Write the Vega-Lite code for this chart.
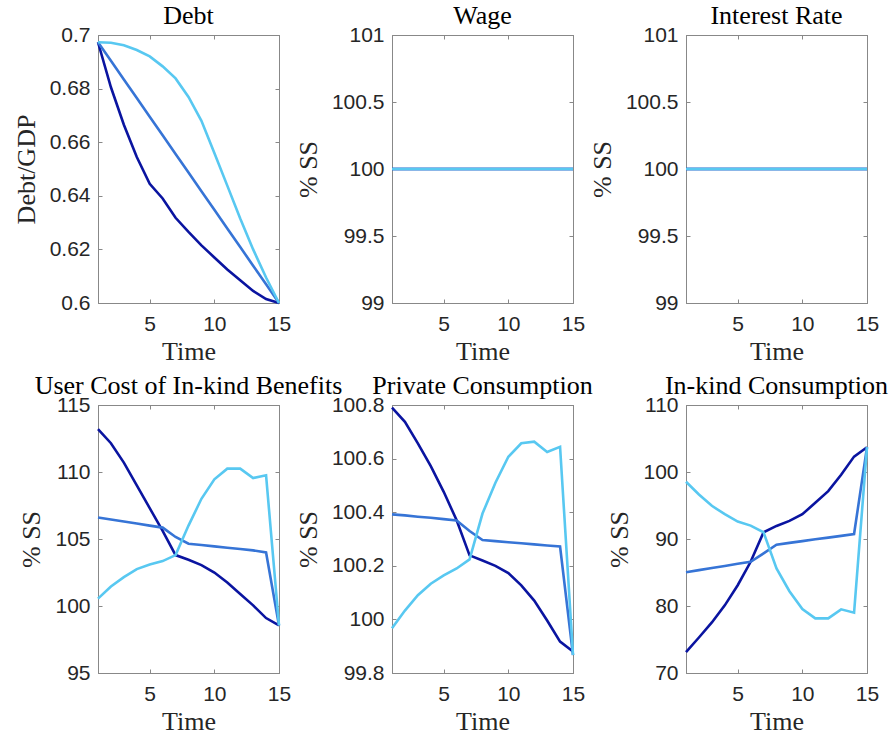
{
  "$schema": "https://vega.github.io/schema/vega-lite/v6.json",
  "background": "white",
  "padding": {"left": 12, "top": 2, "right": 5, "bottom": 5},
  "datasets": {
    "debt": [
      {"t": 1, "s1": 0.6973, "s2": 0.6973, "s3": 0.6973},
      {"t": 2, "s1": 0.6805, "s2": 0.6904, "s3": 0.6971},
      {"t": 3, "s1": 0.6665, "s2": 0.6834, "s3": 0.6962},
      {"t": 4, "s1": 0.6545, "s2": 0.6765, "s3": 0.6944},
      {"t": 5, "s1": 0.6445, "s2": 0.6695, "s3": 0.6920},
      {"t": 6, "s1": 0.6390, "s2": 0.6626, "s3": 0.6883},
      {"t": 7, "s1": 0.6318, "s2": 0.6556, "s3": 0.6838},
      {"t": 8, "s1": 0.6265, "s2": 0.6487, "s3": 0.6769},
      {"t": 9, "s1": 0.6215, "s2": 0.6417, "s3": 0.6680},
      {"t": 10, "s1": 0.6170, "s2": 0.6348, "s3": 0.6560},
      {"t": 11, "s1": 0.6125, "s2": 0.6278, "s3": 0.6438},
      {"t": 12, "s1": 0.6085, "s2": 0.6209, "s3": 0.6315},
      {"t": 13, "s1": 0.6045, "s2": 0.6139, "s3": 0.6200},
      {"t": 14, "s1": 0.6015, "s2": 0.6070, "s3": 0.6095},
      {"t": 15, "s1": 0.6000, "s2": 0.6000, "s3": 0.6000}
    ],
    "wage": [
      {"t": 1, "s1": 100, "s2": 100, "s3": 100},
      {"t": 2, "s1": 100, "s2": 100, "s3": 100},
      {"t": 3, "s1": 100, "s2": 100, "s3": 100},
      {"t": 4, "s1": 100, "s2": 100, "s3": 100},
      {"t": 5, "s1": 100, "s2": 100, "s3": 100},
      {"t": 6, "s1": 100, "s2": 100, "s3": 100},
      {"t": 7, "s1": 100, "s2": 100, "s3": 100},
      {"t": 8, "s1": 100, "s2": 100, "s3": 100},
      {"t": 9, "s1": 100, "s2": 100, "s3": 100},
      {"t": 10, "s1": 100, "s2": 100, "s3": 100},
      {"t": 11, "s1": 100, "s2": 100, "s3": 100},
      {"t": 12, "s1": 100, "s2": 100, "s3": 100},
      {"t": 13, "s1": 100, "s2": 100, "s3": 100},
      {"t": 14, "s1": 100, "s2": 100, "s3": 100},
      {"t": 15, "s1": 100, "s2": 100, "s3": 100}
    ],
    "rate": [
      {"t": 1, "s1": 100, "s2": 100, "s3": 100},
      {"t": 2, "s1": 100, "s2": 100, "s3": 100},
      {"t": 3, "s1": 100, "s2": 100, "s3": 100},
      {"t": 4, "s1": 100, "s2": 100, "s3": 100},
      {"t": 5, "s1": 100, "s2": 100, "s3": 100},
      {"t": 6, "s1": 100, "s2": 100, "s3": 100},
      {"t": 7, "s1": 100, "s2": 100, "s3": 100},
      {"t": 8, "s1": 100, "s2": 100, "s3": 100},
      {"t": 9, "s1": 100, "s2": 100, "s3": 100},
      {"t": 10, "s1": 100, "s2": 100, "s3": 100},
      {"t": 11, "s1": 100, "s2": 100, "s3": 100},
      {"t": 12, "s1": 100, "s2": 100, "s3": 100},
      {"t": 13, "s1": 100, "s2": 100, "s3": 100},
      {"t": 14, "s1": 100, "s2": 100, "s3": 100},
      {"t": 15, "s1": 100, "s2": 100, "s3": 100}
    ],
    "usercost": [
      {"t": 1, "s1": 113.2, "s2": 106.6, "s3": 100.55},
      {"t": 2, "s1": 112.15, "s2": 106.45, "s3": 101.45},
      {"t": 3, "s1": 110.7, "s2": 106.3, "s3": 102.15},
      {"t": 4, "s1": 109.0, "s2": 106.15, "s3": 102.75},
      {"t": 5, "s1": 107.3, "s2": 106.0, "s3": 103.1},
      {"t": 6, "s1": 105.6, "s2": 105.85, "s3": 103.35},
      {"t": 7, "s1": 103.8, "s2": 105.15, "s3": 103.8},
      {"t": 8, "s1": 103.45, "s2": 104.65, "s3": 106.0},
      {"t": 9, "s1": 103.05, "s2": 104.55, "s3": 108.0},
      {"t": 10, "s1": 102.5, "s2": 104.45, "s3": 109.45},
      {"t": 11, "s1": 101.75, "s2": 104.35, "s3": 110.25},
      {"t": 12, "s1": 100.9, "s2": 104.25, "s3": 110.25},
      {"t": 13, "s1": 100.05, "s2": 104.15, "s3": 109.55},
      {"t": 14, "s1": 99.1, "s2": 104.0, "s3": 109.75},
      {"t": 15, "s1": 98.55, "s2": 98.55, "s3": 98.55}
    ],
    "private": [
      {"t": 1, "s1": 100.79, "s2": 100.392, "s3": 99.967},
      {"t": 2, "s1": 100.737, "s2": 100.388, "s3": 100.033},
      {"t": 3, "s1": 100.657, "s2": 100.383, "s3": 100.09},
      {"t": 4, "s1": 100.572, "s2": 100.379, "s3": 100.133},
      {"t": 5, "s1": 100.476, "s2": 100.374, "s3": 100.164},
      {"t": 6, "s1": 100.37, "s2": 100.369, "s3": 100.19},
      {"t": 7, "s1": 100.239, "s2": 100.33, "s3": 100.224},
      {"t": 8, "s1": 100.22, "s2": 100.296, "s3": 100.395},
      {"t": 9, "s1": 100.2, "s2": 100.292, "s3": 100.51},
      {"t": 10, "s1": 100.173, "s2": 100.288, "s3": 100.607},
      {"t": 11, "s1": 100.127, "s2": 100.284, "s3": 100.657},
      {"t": 12, "s1": 100.07, "s2": 100.28, "s3": 100.663},
      {"t": 13, "s1": 99.996, "s2": 100.276, "s3": 100.625},
      {"t": 14, "s1": 99.917, "s2": 100.272, "s3": 100.644},
      {"t": 15, "s1": 99.88, "s2": 99.867, "s3": 99.867}
    ],
    "inkind": [
      {"t": 1, "s1": 73.1, "s2": 85.05, "s3": 98.55},
      {"t": 2, "s1": 75.3, "s2": 85.35, "s3": 96.65},
      {"t": 3, "s1": 77.55, "s2": 85.67, "s3": 94.95},
      {"t": 4, "s1": 80.1, "s2": 85.98, "s3": 93.7},
      {"t": 5, "s1": 83.1, "s2": 86.3, "s3": 92.6},
      {"t": 6, "s1": 86.6, "s2": 86.6, "s3": 92.0},
      {"t": 7, "s1": 91.0, "s2": 87.85, "s3": 91.0},
      {"t": 8, "s1": 91.95, "s2": 89.15, "s3": 85.6},
      {"t": 9, "s1": 92.7, "s2": 89.42, "s3": 82.2},
      {"t": 10, "s1": 93.7, "s2": 89.68, "s3": 79.55},
      {"t": 11, "s1": 95.4, "s2": 89.95, "s3": 78.15},
      {"t": 12, "s1": 97.15, "s2": 90.2, "s3": 78.15},
      {"t": 13, "s1": 99.6, "s2": 90.47, "s3": 79.5},
      {"t": 14, "s1": 102.3, "s2": 90.74, "s3": 79.0},
      {"t": 15, "s1": 103.7, "s2": 103.7, "s3": 103.7}
    ]
  },
  "columns": 3,
  "bounds": "flush",
  "spacing": {"row": 102, "column": 113},
  "concat": [
    {
      "data": {"name": "debt"},
      "transform": [{"fold": ["s1", "s2", "s3"], "as": ["series", "value"]}],
      "title": "Debt",
      "width": 181, "height": 268,
      "layer": [
        {"mark": {"type": "line", "strokeWidth": 2.6},
         "encoding": {
           "x": {"field": "t", "type": "quantitative", "scale": {"domain": [1, 15], "nice": false, "zero": false}, "axis": {"values": [5, 10, 15], "title": "Time"}},
           "y": {"field": "value", "type": "quantitative", "scale": {"domain": [0.6, 0.7], "nice": false, "zero": false}, "axis": {"values": [0.6, 0.62, 0.64, 0.66, 0.68, 0.7], "format": "~r", "title": "Debt/GDP"}},
           "color": {"field": "series", "type": "nominal", "scale": {"domain": ["s1", "s2", "s3"], "range": ["#0a14a0", "#3674d6", "#58c8f1"]}, "legend": null}
         }},
        {"mark": {"type": "line", "strokeOpacity": 0},
         "encoding": {
           "x": {"field": "t", "type": "quantitative", "scale": {"domain": [1, 15], "nice": false, "zero": false}, "axis": {"orient": "top", "values": [5, 10, 15], "labels": false, "title": null}},
           "y": {"field": "value", "type": "quantitative", "scale": {"domain": [0.6, 0.7], "nice": false, "zero": false}, "axis": {"orient": "right", "values": [0.6, 0.62, 0.64, 0.66, 0.68, 0.7], "labels": false, "title": null}},
           "detail": {"field": "series"}
         }}
      ],
      "resolve": {"axis": {"x": "independent", "y": "independent"}}
    },
    {
      "data": {"name": "wage"},
      "transform": [{"fold": ["s1", "s2", "s3"], "as": ["series", "value"]}],
      "title": "Wage",
      "width": 181, "height": 268,
      "layer": [
        {"mark": {"type": "line", "strokeWidth": 2.6},
         "encoding": {
           "x": {"field": "t", "type": "quantitative", "scale": {"domain": [1, 15], "nice": false, "zero": false}, "axis": {"values": [5, 10, 15], "title": "Time"}},
           "y": {"field": "value", "type": "quantitative", "scale": {"domain": [99, 101], "nice": false, "zero": false}, "axis": {"values": [99, 99.5, 100, 100.5, 101], "format": "~r", "title": "% SS"}},
           "color": {"field": "series", "type": "nominal", "scale": {"domain": ["s1", "s2", "s3"], "range": ["#0a14a0", "#3674d6", "#58c8f1"]}, "legend": null}
         }},
        {"mark": {"type": "line", "strokeOpacity": 0},
         "encoding": {
           "x": {"field": "t", "type": "quantitative", "scale": {"domain": [1, 15], "nice": false, "zero": false}, "axis": {"orient": "top", "values": [5, 10, 15], "labels": false, "title": null}},
           "y": {"field": "value", "type": "quantitative", "scale": {"domain": [99, 101], "nice": false, "zero": false}, "axis": {"orient": "right", "values": [99, 99.5, 100, 100.5, 101], "labels": false, "title": null}},
           "detail": {"field": "series"}
         }}
      ],
      "resolve": {"axis": {"x": "independent", "y": "independent"}}
    },
    {
      "data": {"name": "rate"},
      "transform": [{"fold": ["s1", "s2", "s3"], "as": ["series", "value"]}],
      "title": "Interest Rate",
      "width": 181, "height": 268,
      "layer": [
        {"mark": {"type": "line", "strokeWidth": 2.6},
         "encoding": {
           "x": {"field": "t", "type": "quantitative", "scale": {"domain": [1, 15], "nice": false, "zero": false}, "axis": {"values": [5, 10, 15], "title": "Time"}},
           "y": {"field": "value", "type": "quantitative", "scale": {"domain": [99, 101], "nice": false, "zero": false}, "axis": {"values": [99, 99.5, 100, 100.5, 101], "format": "~r", "title": "% SS"}},
           "color": {"field": "series", "type": "nominal", "scale": {"domain": ["s1", "s2", "s3"], "range": ["#0a14a0", "#3674d6", "#58c8f1"]}, "legend": null}
         }},
        {"mark": {"type": "line", "strokeOpacity": 0},
         "encoding": {
           "x": {"field": "t", "type": "quantitative", "scale": {"domain": [1, 15], "nice": false, "zero": false}, "axis": {"orient": "top", "values": [5, 10, 15], "labels": false, "title": null}},
           "y": {"field": "value", "type": "quantitative", "scale": {"domain": [99, 101], "nice": false, "zero": false}, "axis": {"orient": "right", "values": [99, 99.5, 100, 100.5, 101], "labels": false, "title": null}},
           "detail": {"field": "series"}
         }}
      ],
      "resolve": {"axis": {"x": "independent", "y": "independent"}}
    },
    {
      "data": {"name": "usercost"},
      "transform": [{"fold": ["s1", "s2", "s3"], "as": ["series", "value"]}],
      "title": "User Cost of In-kind Benefits",
      "width": 181, "height": 268,
      "layer": [
        {"mark": {"type": "line", "strokeWidth": 2.6},
         "encoding": {
           "x": {"field": "t", "type": "quantitative", "scale": {"domain": [1, 15], "nice": false, "zero": false}, "axis": {"values": [5, 10, 15], "title": "Time"}},
           "y": {"field": "value", "type": "quantitative", "scale": {"domain": [95, 115], "nice": false, "zero": false}, "axis": {"values": [95, 100, 105, 110, 115], "format": "~r", "title": "% SS"}},
           "color": {"field": "series", "type": "nominal", "scale": {"domain": ["s1", "s2", "s3"], "range": ["#0a14a0", "#3674d6", "#58c8f1"]}, "legend": null}
         }},
        {"mark": {"type": "line", "strokeOpacity": 0},
         "encoding": {
           "x": {"field": "t", "type": "quantitative", "scale": {"domain": [1, 15], "nice": false, "zero": false}, "axis": {"orient": "top", "values": [5, 10, 15], "labels": false, "title": null}},
           "y": {"field": "value", "type": "quantitative", "scale": {"domain": [95, 115], "nice": false, "zero": false}, "axis": {"orient": "right", "values": [95, 100, 105, 110, 115], "labels": false, "title": null}},
           "detail": {"field": "series"}
         }}
      ],
      "resolve": {"axis": {"x": "independent", "y": "independent"}}
    },
    {
      "data": {"name": "private"},
      "transform": [{"fold": ["s1", "s2", "s3"], "as": ["series", "value"]}],
      "title": "Private Consumption",
      "width": 181, "height": 268,
      "layer": [
        {"mark": {"type": "line", "strokeWidth": 2.6},
         "encoding": {
           "x": {"field": "t", "type": "quantitative", "scale": {"domain": [1, 15], "nice": false, "zero": false}, "axis": {"values": [5, 10, 15], "title": "Time"}},
           "y": {"field": "value", "type": "quantitative", "scale": {"domain": [99.8, 100.8], "nice": false, "zero": false}, "axis": {"values": [99.8, 100, 100.2, 100.4, 100.6, 100.8], "format": "~r", "title": "% SS"}},
           "color": {"field": "series", "type": "nominal", "scale": {"domain": ["s1", "s2", "s3"], "range": ["#0a14a0", "#3674d6", "#58c8f1"]}, "legend": null}
         }},
        {"mark": {"type": "line", "strokeOpacity": 0},
         "encoding": {
           "x": {"field": "t", "type": "quantitative", "scale": {"domain": [1, 15], "nice": false, "zero": false}, "axis": {"orient": "top", "values": [5, 10, 15], "labels": false, "title": null}},
           "y": {"field": "value", "type": "quantitative", "scale": {"domain": [99.8, 100.8], "nice": false, "zero": false}, "axis": {"orient": "right", "values": [99.8, 100, 100.2, 100.4, 100.6, 100.8], "labels": false, "title": null}},
           "detail": {"field": "series"}
         }}
      ],
      "resolve": {"axis": {"x": "independent", "y": "independent"}}
    },
    {
      "data": {"name": "inkind"},
      "transform": [{"fold": ["s1", "s2", "s3"], "as": ["series", "value"]}],
      "title": "In-kind Consumption",
      "width": 181, "height": 268,
      "layer": [
        {"mark": {"type": "line", "strokeWidth": 2.6},
         "encoding": {
           "x": {"field": "t", "type": "quantitative", "scale": {"domain": [1, 15], "nice": false, "zero": false}, "axis": {"values": [5, 10, 15], "title": "Time"}},
           "y": {"field": "value", "type": "quantitative", "scale": {"domain": [70, 110], "nice": false, "zero": false}, "axis": {"values": [70, 80, 90, 100, 110], "format": "~r", "title": "% SS"}},
           "color": {"field": "series", "type": "nominal", "scale": {"domain": ["s1", "s2", "s3"], "range": ["#0a14a0", "#3674d6", "#58c8f1"]}, "legend": null}
         }},
        {"mark": {"type": "line", "strokeOpacity": 0},
         "encoding": {
           "x": {"field": "t", "type": "quantitative", "scale": {"domain": [1, 15], "nice": false, "zero": false}, "axis": {"orient": "top", "values": [5, 10, 15], "labels": false, "title": null}},
           "y": {"field": "value", "type": "quantitative", "scale": {"domain": [70, 110], "nice": false, "zero": false}, "axis": {"orient": "right", "values": [70, 80, 90, 100, 110], "labels": false, "title": null}},
           "detail": {"field": "series"}
         }}
      ],
      "resolve": {"axis": {"x": "independent", "y": "independent"}}
    }
  ],
  "config": {
    "view": {"stroke": "#888888", "strokeWidth": 1},
    "axis": {
      "grid": false,
      "minExtent": 0,
      "domainColor": "#888888",
      "domainWidth": 1,
      "tickColor": "#888888",
      "tickSize": -4,
      "tickWidth": 1,
      "labelFont": "Liberation Sans",
      "labelFontSize": 21,
      "labelColor": "#262626",
      "labelFlush": false,
      "labelOverlap": false,
      "titleFont": "Liberation Serif",
      "titleFontSize": 26,
      "titleFontWeight": "normal",
      "titleColor": "#262626"
    },
    "axisBottom": {"labelPadding": 14, "titlePadding": 4},
    "axisLeft": {"labelPadding": 12, "titlePadding": 10},
    "title": {"font": "Liberation Serif", "fontSize": 26, "fontWeight": "normal", "color": "#000000", "baseline": "alphabetic", "frame": "group", "offset": -5}
  }
}
